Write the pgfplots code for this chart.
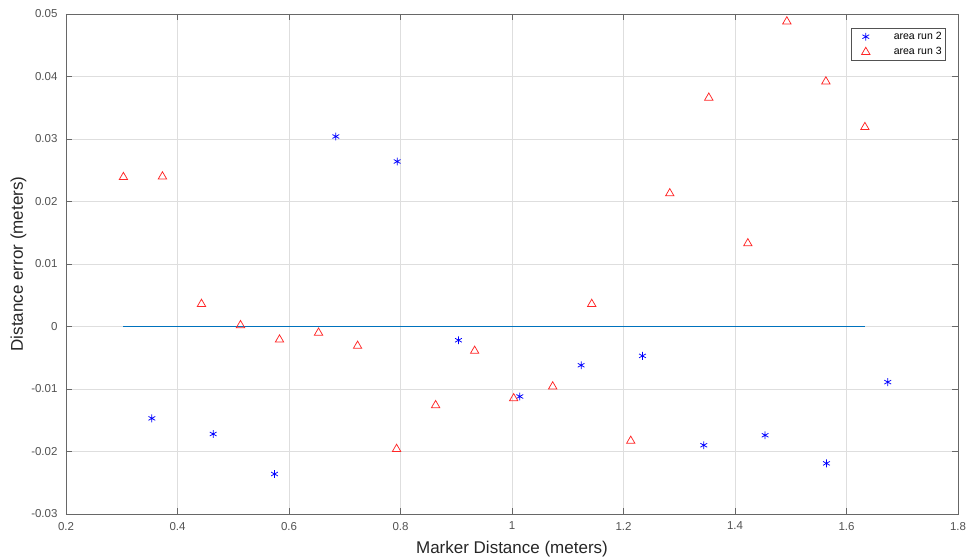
\documentclass[border=0pt]{standalone}
\usepackage{fontspec}
\setmainfont{Liberation Sans}
\usepackage{pgfplots}
\pgfplotsset{compat=1.18}

\definecolor{axgray}{gray}{0.15}
\definecolor{gridgray}{gray}{0.87}
\definecolor{mblue}{rgb}{0,0.447,0.741}

\begin{document}
\begin{tikzpicture}
\begin{axis}[
  scale only axis,
  width=892pt, height=500pt,
  xmin=0.2, xmax=1.8, ymin=-0.03, ymax=0.05,
  scaled x ticks=false, scaled y ticks=false,
  xtick={0.2,0.4,...,1.8},
  ytick={-0.03,-0.02,...,0.05},
  xticklabels={0.2,0.4,0.6,0.8,1,1.2,1.4,1.6,1.8},
  yticklabels={-0.03,-0.02,-0.01,0,0.01,0.02,0.03,0.04,0.05},
  /pgf/number format/assume math mode=true,
  ticklabel style={font=\fontsize{11.5}{14}\selectfont, text=axgray!80},
  xticklabel style={yshift=-4.5pt},
  yticklabel style={xshift=-5pt},
  label style={font=\fontsize{17}{20}\selectfont, text=axgray},
  xlabel={Marker Distance (meters)},
  ylabel={Distance error (meters)},
  xlabel style={yshift=-4pt},
  ylabel style={yshift=-2pt},
  axis line style={axgray!70, line width=0.6pt},
  tick style={axgray!70, line width=0.6pt},
  tick align=inside,
  major tick length=6pt,
  grid=major,
  grid style={gridgray, line width=0.5pt},
  legend style={at={(rel axis cs:0.9865,0.972)}, anchor=north east,
    font=\fontsize{10.5}{12}\selectfont, draw=axgray!80, line width=0.6pt,
    row sep=2.5pt, inner sep=2pt},
  legend cell align=left,
  legend image code/.code={%
    \path[draw=none, fill=none] (0pt,-3pt) rectangle (38pt,3pt);
    \draw[#1] plot coordinates {(12pt,0pt)};},
]
% zero reference line
\addplot[mblue, line width=0.8pt, forget plot] coordinates {(0.303,0) (1.633,0)};

% run 2 measurements
\addplot[only marks, mark=asterisk, mark size=3.9pt, blue, line width=0.75pt] coordinates {
(0.354,-0.0147) (0.464,-0.0172) (0.574,-0.0236) (0.684,0.0304)
(0.794,0.0264) (0.904,-0.0022) (1.014,-0.0112) (1.124,-0.0062)
(1.234,-0.0047) (1.344,-0.0190) (1.454,-0.0174) (1.564,-0.0219)
(1.674,-0.0089)};
\addlegendentry{area run 2}

% run 3 measurements
\addplot[only marks, mark=triangle, mark size=4.8pt, red!85!white, line width=0.75pt] coordinates {
(0.303,0.0239) (0.373,0.0240) (0.443,0.0036) (0.513,0.0002)
(0.583,-0.0021) (0.653,-0.0010) (0.723,-0.0031) (0.793,-0.0196)
(0.863,-0.0126) (0.933,-0.0039) (1.003,-0.0115) (1.073,-0.0096)
(1.143,0.0036) (1.213,-0.0183) (1.283,0.0213) (1.353,0.0366)
(1.423,0.0133) (1.493,0.0488) (1.563,0.0392) (1.633,0.0319)};
\addlegendentry{area run 3}
\end{axis}
\pgfresetboundingbox
\path ([shift={(-66pt,-45pt)}]current axis.south west) rectangle ([shift={(13pt,14pt)}]current axis.north east);
\end{tikzpicture}
\end{document}
